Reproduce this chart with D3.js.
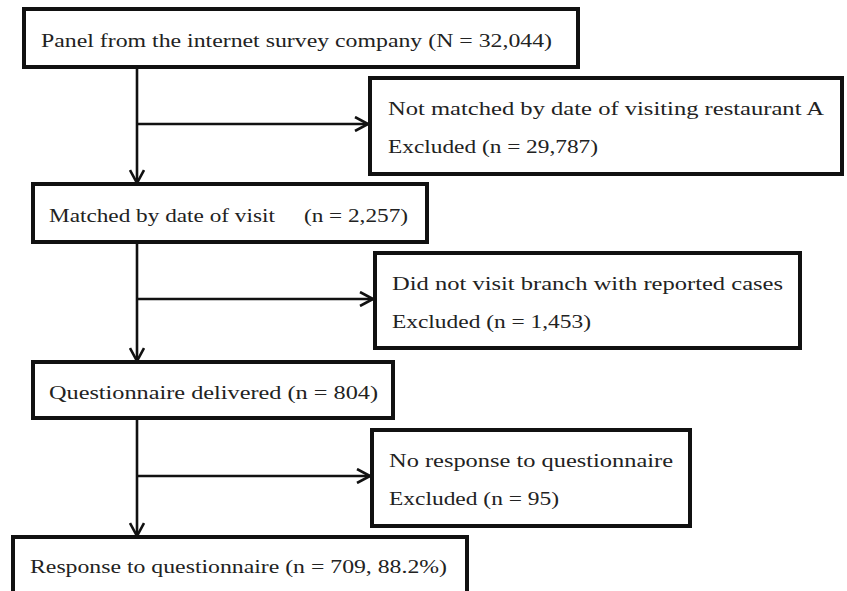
<!DOCTYPE html>
<html>
<head>
<meta charset="utf-8">
<script src="https://cdn.jsdelivr.net/npm/d3@7"></script>
<style>
  body { margin: 0; background: #fff; }
  svg { display: block; }
  text { font-family: "Liberation Serif", "DejaVu Serif", serif; font-size: 19px; fill: #222; white-space: pre; }
</style>
</head>
<body>
<svg id="chart"></svg>
<script>
// participant flow: who stays in, who drops out at each step

const stageLabels = ["Panel from the internet survey company", "Matched by date of visit\u2003", "Questionnaire delivered", "Response to questionnaire"];
const stageCounts = [32044, 2257, 804, 709];
const stageExtra = ["", "", "", ", 88.2%"];
const stageSymbol = ["N", "n", "n", "n"];

const exclusionReasons = ["Not matched by date of visiting restaurant A", "Did not visit branch with reported cases", "No response to questionnaire"];
const excludedCounts = [29787, 1453, 95];

const width = 847, height = 591;
const fmt = d3.format(",");

// layout of the boxes (page px)
const stageBox = [
  {x: 24, y: 9, w: 554, h: 58, tx: 41, ty: 47, tw: 511},
  {x: 33, y: 184, w: 394, h: 58, tx: 49, ty: 222, tw: 359},
  {x: 33, y: 362, w: 360, h: 56, tx: 49, ty: 399, tw: 329},
  {x: 13, y: 537, w: 454, h: 70, tx: 30, ty: 573, tw: 417}
];
const exclBox = [
  {x: 370, y: 78, w: 472, h: 96, tx: 388, ty1: 115, ty2: 153, ay: 124, tw1: 436, tw2: 210},
  {x: 375, y: 253, w: 425, h: 95, tx: 392, ty1: 290, ty2: 328, ay: 299, tw1: 391, tw2: 199},
  {x: 372, y: 430, w: 318, h: 96, tx: 389, ty1: 467, ty2: 505, ay: 476, tw1: 284, tw2: 170}
];
const spineX = 137;

const svg = d3.select("#chart")
    .attr("width", width)
    .attr("height", height);

const defs = svg.append("defs");
defs.append("marker")
    .attr("id", "chev")
    .attr("viewBox", "0 0 16 16")
    .attr("refX", 15).attr("refY", 8)
    .attr("markerWidth", 16).attr("markerHeight", 16)
    .attr("markerUnits", "userSpaceOnUse")
    .attr("orient", "auto")
  .append("path")
    .attr("d", "M2,1 L15,8 L2,15")
    .attr("fill", "none")
    .attr("stroke", "#111")
    .attr("stroke-width", 2.6);

// vertical spine between stages
const links = d3.range(stageLabels.length - 1);
svg.selectAll("line.down").data(links)
  .enter().append("line")
    .attr("class", "down")
    .attr("x1", spineX).attr("x2", spineX)
    .attr("y1", i => stageBox[i].y + stageBox[i].h)
    .attr("y2", i => stageBox[i + 1].y - 1)
    .attr("stroke", "#111")
    .attr("stroke-width", 2.6)
    .attr("marker-end", "url(#chev)");

// side arrows to exclusion boxes
svg.selectAll("line.side").data(exclusionReasons)
  .enter().append("line")
    .attr("class", "side")
    .attr("x1", spineX)
    .attr("x2", (d, i) => exclBox[i].x - 2)
    .attr("y1", (d, i) => exclBox[i].ay)
    .attr("y2", (d, i) => exclBox[i].ay)
    .attr("stroke", "#111")
    .attr("stroke-width", 2.6)
    .attr("marker-end", "url(#chev)");

// stage boxes
const stages = svg.selectAll("g.stage").data(stageLabels)
  .enter().append("g").attr("class", "stage");

stages.append("rect")
    .attr("x", (d, i) => stageBox[i].x)
    .attr("y", (d, i) => stageBox[i].y)
    .attr("width", (d, i) => stageBox[i].w)
    .attr("height", (d, i) => stageBox[i].h)
    .attr("fill", "#fff")
    .attr("stroke", "#111")
    .attr("stroke-width", 4);

stages.append("text")
    .attr("x", (d, i) => stageBox[i].tx)
    .attr("y", (d, i) => stageBox[i].ty)
    .attr("textLength", (d, i) => stageBox[i].tw)
    .attr("lengthAdjust", "spacingAndGlyphs")
    .text((d, i) => d + " (" + stageSymbol[i] + " = " + fmt(stageCounts[i]) + stageExtra[i] + ")");

// exclusion boxes
const excl = svg.selectAll("g.excl").data(exclusionReasons)
  .enter().append("g").attr("class", "excl");

excl.append("rect")
    .attr("x", (d, i) => exclBox[i].x)
    .attr("y", (d, i) => exclBox[i].y)
    .attr("width", (d, i) => exclBox[i].w)
    .attr("height", (d, i) => exclBox[i].h)
    .attr("fill", "#fff")
    .attr("stroke", "#111")
    .attr("stroke-width", 4);

excl.append("text")
    .attr("x", (d, i) => exclBox[i].tx)
    .attr("y", (d, i) => exclBox[i].ty1)
    .attr("textLength", (d, i) => exclBox[i].tw1)
    .attr("lengthAdjust", "spacingAndGlyphs")
    .text(d => d);

excl.append("text")
    .attr("x", (d, i) => exclBox[i].tx)
    .attr("y", (d, i) => exclBox[i].ty2)
    .attr("textLength", (d, i) => exclBox[i].tw2)
    .attr("lengthAdjust", "spacingAndGlyphs")
    .text((d, i) => "Excluded (n = " + fmt(excludedCounts[i]) + ")");
</script>
</body>
</html>
